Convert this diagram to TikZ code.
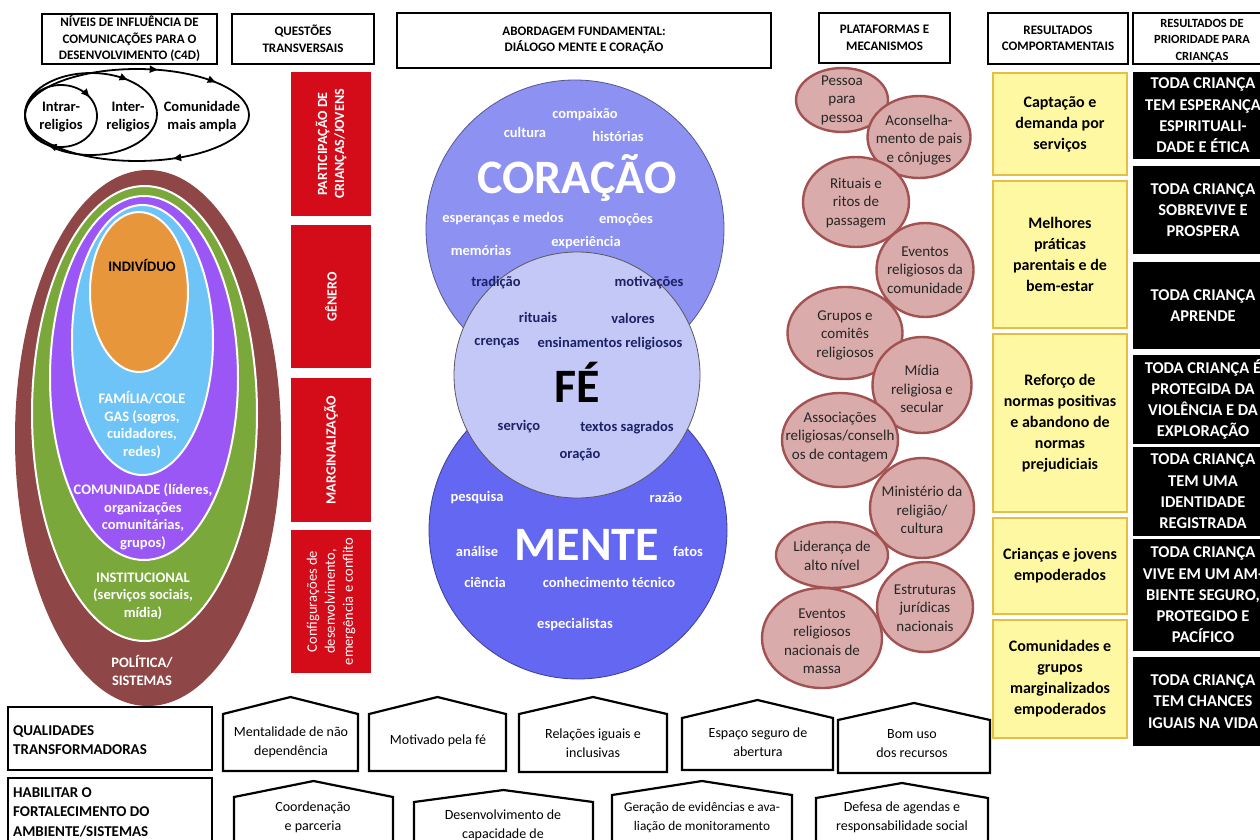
\documentclass[tikz,border=0pt]{standalone}
\usepackage{fontspec}
\setmainfont{Carlito}
\usetikzlibrary{arrows.meta,decorations.markings,shapes.geometric}
\definecolor{qred}{HTML}{D40C1A}
\definecolor{lbrown}{HTML}{8F4646}
\definecolor{lgreen}{HTML}{7AA83A}
\definecolor{lpurple}{HTML}{9B57F5}
\definecolor{lblue}{HTML}{6EC3F7}
\definecolor{lorange}{HTML}{E8963C}
\definecolor{ccor}{HTML}{8D91F1}
\definecolor{cfe}{HTML}{C4C8F6}
\definecolor{cmen}{HTML}{6467F1}
\definecolor{navy}{HTML}{1C2266}
\definecolor{pkfill}{HTML}{D9ABAB}
\definecolor{pkdraw}{HTML}{A35252}
\definecolor{yfill}{HTML}{FFF8A3}
\definecolor{ydraw}{HTML}{E6BD45}
\newcommand{\fsz}[2]{\fontsize{#1}{#2}\selectfont}
\newcommand{\looptip}{\arrow{Triangle[length=8pt,width=7pt]}}
\tikzset{
 hdr/.style={draw=black, line width=2.2pt, fill=white, inner sep=0pt, align=center, font=\bfseries\fsz{13}{16.5}},
 lvl/.style={ellipse, draw=white, line width=2pt, inner sep=0pt},
 lvltxt/.style={align=center, font=\bfseries\fsz{14.5}{17.5}, text=white, inner sep=0pt},
 loopl/.style={line width=1.8pt, draw=black},
 looptxt/.style={align=center, font=\bfseries\fsz{14.5}{18}, inner sep=0pt},
 rbox/.style={fill=qred, text=white, rotate=90, inner sep=0pt, align=center, font=\bfseries\fsz{14}{17}},
 bigc/.style={circle, inner sep=0pt, line width=0.8pt},
 wword/.style={text=white, font=\bfseries\fsz{14.5}{17}, inner sep=0pt, anchor=base},
 nword/.style={text=navy, font=\bfseries\fsz{14.5}{17}, inner sep=0pt, anchor=base},
 pk/.style={ellipse, fill=pkfill, draw=pkdraw, line width=2.4pt, inner sep=0pt},
 pktxt/.style={align=center, font=\fsz{15}{18.5}, inner sep=0pt, text=black!85},
 ybox/.style={fill=yfill, draw=ydraw, line width=2pt, align=center, font=\bfseries\fsz{16}{21}, inner sep=0pt, minimum width=134pt},
 kbox/.style={fill=black, text=white, align=center, font=\bfseries\fsz{16.5}{21.3}, inner sep=0pt, minimum width=140pt},
 house/.style={draw=black, line width=2.2pt, fill=white, line join=miter},
 htxt/.style={align=center, font=\fsz{14}{19}, inner sep=0pt},
 btxt/.style={align=left, anchor=west, font=\bfseries\fsz{15}{19.5}, inner sep=0pt},
}
\begin{document}
\begin{tikzpicture}[x=1pt,y=-1pt]
\useasboundingbox (0,0) rectangle (1260,840);
\clip (0,0) rectangle (1260,840);
\fill[white] (0,0) rectangle (1260,840);

% ---------- headers
\node[hdr, minimum width=175pt, minimum height=50pt] (h1) at (129.5,39) {NÍVEIS DE INFLUÊNCIA DE\\COMUNICAÇÕES PARA O\\DESENVOLVIMENTO (C4D)};
\node[hdr, minimum width=142pt, minimum height=50pt] (h2) at (303,39) {QUESTÕES\\TRANSVERSAIS};
\node[hdr, minimum width=374pt, minimum height=55pt] (h3) at (584,40.5) {ABORDAGEM FUNDAMENTAL:\\DIÁLOGO MENTE E CORAÇÃO};
\node[hdr, minimum width=131pt, minimum height=50pt] (h4) at (884.5,38) {PLATAFORMAS E\\MECANISMOS};
\node[hdr, minimum width=140pt, minimum height=51pt] (h5) at (1058,38.5) {RESULTADOS\\COMPORTAMENTAIS};
\node[hdr, minimum width=157pt, minimum height=51pt] (h6) at (1211.5,38.5) {};
\node[align=center, inner sep=0pt, font=\bfseries\fsz{12.5}{16.5}] (h6t) at (1202,40.5) {RESULTADOS DE\\PRIORIDADE PARA\\CRIANÇAS};

% ---------- loops
\draw[loopl, decoration={markings,
  mark=at position 0.18 with {\looptip},
  mark=at position 0.79 with {\looptip},
  mark=at position 0.905 with {\looptip}}, postaction={decorate}]
  (137,115) ellipse [x radius=112, y radius=46];
\draw[loopl, decoration={markings,
  mark=at position 0.86 with {\looptip}}, postaction={decorate}]
  (91,114) ellipse [x radius=66, y radius=41];
\draw[loopl, decoration={markings,
  mark=at position 0.31 with {\looptip},
  mark=at position 0.9 with {\looptip}}, postaction={decorate}]
  (61,116) ellipse [x radius=36, y radius=31];
\node[looptxt] (l1) at (61,117) {Intrar-\\religios};
\node[looptxt] (l2) at (128,117) {Inter-\\religios};
\node[looptxt] (l3) at (202,117) {Comunidade\\mais ampla};

% ---------- levels
\node[ellipse, fill=lbrown, inner sep=0pt, minimum width=266pt, minimum height=536pt] (e1) at (148,438) {};
\node[lvl, fill=lgreen, minimum width=225pt, minimum height=455pt] (e2) at (144.5,413.5) {};
\node[lvl, fill=lpurple, minimum width=188pt, minimum height=364pt] (e3) at (144,378) {};
\node[lvl, fill=lblue, minimum width=141pt, minimum height=270pt] (e4) at (142.5,340) {};
\node[lvl, fill=lorange, minimum width=98pt, minimum height=160pt] (e5) at (139,292) {};
\node[lvltxt, text=black] (t5) at (142,265) {INDIVÍDUO};
\node[lvltxt] (t4) at (142,425) {FAMÍLIA/COLE\\GAS (sogros,\\cuidadores,\\redes)};
\node[lvltxt] (t3) at (143,517) {COMUNIDADE (líderes,\\organizações\\comunitárias,\\grupos)};
\node[lvltxt] (t2) at (143,596) {INSTITUCIONAL\\(serviços sociais,\\mídia)};
\node[lvltxt] (t1) at (142,670.5) {POLÍTICA/\\SISTEMAS};

% ---------- red boxes
\node[rbox, minimum width=144pt, minimum height=80pt] (r1) at (331,144) {PARTICIPAÇÃO DE\\CRIANÇAS/JOVENS};
\node[rbox, minimum width=143pt, minimum height=80pt] (r2) at (331,296.5) {GÊNERO};
\node[rbox, minimum width=144pt, minimum height=80pt] (r3) at (331,450) {MARGINALIZAÇÃO};
\node[rbox, minimum width=143pt, minimum height=80pt, font=\fsz{14.5}{18}] (r4) at (331,601.5) {Configurações de\\desenvolvimento,\\emergência e conflito};

% ---------- circles
\node[bigc, fill=ccor, draw=ccor!60!black, minimum size=298pt] (cor) at (575,229) {};
\node[bigc, fill=cmen, draw=cmen!60!black, minimum size=298pt] (men) at (578,530) {};
\node[bigc, fill=cfe, draw=black!65, minimum size=246pt] (fe) at (577,375) {};
\node[text=white, font=\bfseries\fsz{48}{50}, inner sep=0pt, anchor=base] (corT) at (577,193) {CORAÇÃO};
\node[text=white, font=\bfseries\fsz{48}{50}, inner sep=0pt, anchor=base] (menT) at (587,560) {MENTE};
\node[text=black, font=\bfseries\fsz{48}{50}, inner sep=0pt, anchor=base] (feT) at (577,402) {FÉ};
\node[wword] (w1) at (585,118) {compaixão};
\node[wword] (w2) at (525,138) {cultura};
\node[wword] (w3) at (618,142) {histórias};
\node[wword] (w4) at (503,222) {esperanças e medos};
\node[wword] (w5) at (626,223) {emoções};
\node[wword] (w6) at (586,246) {experiência};
\node[wword] (w7) at (481,255) {memórias};
\node[nword] (n1) at (496,286) {tradição};
\node[nword] (n2) at (649,286) {motivações};
\node[nword] (n3) at (538,322) {rituais};
\node[nword] (n4) at (633,323) {valores};
\node[nword] (n5) at (497,345) {crenças};
\node[nword] (n6) at (610,347) {ensinamentos religiosos};
\node[nword] (n7) at (519,430) {serviço};
\node[nword] (n8) at (627,431) {textos sagrados};
\node[nword] (n9) at (580,458) {oração};
\node[wword] (m1) at (477,501) {pesquisa};
\node[wword] (m2) at (666,502) {razão};
\node[wword] (m3) at (477,556) {análise};
\node[wword] (m4) at (688,556) {fatos};
\node[wword] (m5) at (485,587) {ciência};
\node[wword] (m6) at (609,587) {conhecimento técnico};
\node[wword] (m7) at (575,628) {especialistas};

% ---------- platforms
\node[pk, minimum width=92pt, minimum height=64pt] (p1) at (842,100) {};
\node[pktxt] (p1t) at (p1) {Pessoa\\para\\pessoa};
\node[pk, minimum width=103pt, minimum height=82pt] (p2) at (919,137) {};
\node[pktxt] (p2t) at (919,140) {Aconselha-\\mento de pais\\e cônjuges};
\node[pk, minimum width=106pt, minimum height=90pt] (p3) at (856,202) {};
\node[pktxt] (p3t) at (856,203) {Rituais e\\ritos de\\passagem};
\node[pk, minimum width=97pt, minimum height=94pt] (p4) at (925,270) {};
\node[pktxt] (p4t) at (925,270) {Eventos\\religiosos da\\comunidade};
\node[pk, minimum width=115pt, minimum height=92pt] (p5) at (845,333) {};
\node[pktxt] (p5t) at (845,335) {Grupos e\\comitês\\religiosos};
\node[pk, minimum width=99pt, minimum height=96pt] (p6) at (922,385) {};
\node[pktxt] (p6t) at (922,389) {Mídia\\religiosa e\\secular};
\node[pk, minimum width=116pt, minimum height=94pt] (p7) at (840,440) {};
\node[pktxt] (p7t) at (840,437) {Associações\\religiosas/conselh\\os de contagem};
\node[pk, minimum width=104pt, minimum height=100pt] (p8) at (922,508) {};
\node[pktxt] (p8t) at (922,510) {Ministério da\\religião/\\cultura};
\node[pk, minimum width=112pt, minimum height=66pt] (p9) at (832,555) {};
\node[pktxt] (p9t) at (832,556) {Liderança de\\alto nível};
\node[pk, minimum width=96pt, minimum height=90pt] (p10) at (925,607) {};
\node[pktxt] (p10t) at (925,608) {Estruturas\\jurídicas\\nacionais};
\node[pk, minimum width=120pt, minimum height=100pt] (p11) at (822,638) {};
\node[pktxt] (p11t) at (822,641) {Eventos\\religiosos\\nacionais de\\massa};

% ---------- behavioural outcomes
\node[ybox, minimum height=102pt] (y1) at (1060,124) {Captação e\\demanda por\\serviços};
\node[ybox, minimum height=147pt] (y2) at (1060,254.5) {Melhores\\práticas\\parentais e de\\bem-estar};
\node[ybox, minimum height=178pt] (y3) at (1060,423) {Reforço de\\normas positivas\\e abandono de\\normas\\prejudiciais};
\node[ybox, minimum height=96pt] (y4) at (1060,566) {Crianças e jovens\\empoderados};
\node[ybox, minimum height=118pt] (y5) at (1060,679) {Comunidades e\\grupos\\marginalizados\\empoderados};

% ---------- priority results
\node[kbox, minimum height=87pt] (k1) at (1203,115.5) {TODA CRIANÇA\\TEM ESPERANÇA\\ESPIRITUALI-\\DADE E ÉTICA};
\node[kbox, minimum height=88pt] (k2) at (1203,210) {TODA CRIANÇA\\SOBREVIVE E\\PROSPERA};
\node[kbox, minimum height=87pt] (k3) at (1203,305.5) {TODA CRIANÇA\\APRENDE};
\node[kbox, minimum height=89pt] (k4) at (1203,399.5) {TODA CRIANÇA É\\PROTEGIDA DA\\VIOLÊNCIA E DA\\EXPLORAÇÃO};
\node[kbox, minimum height=89pt] (k5) at (1203,491.5) {TODA CRIANÇA\\TEM UMA\\IDENTIDADE\\REGISTRADA};
\node[kbox, minimum height=112pt] (k6) at (1203,595) {TODA CRIANÇA\\VIVE EM UM AM-\\BIENTE SEGURO,\\PROTEGIDO E\\PACÍFICO};
\node[kbox, minimum height=89pt] (k7) at (1203,701.5) {TODA CRIANÇA\\TEM CHANCES\\IGUAIS NA VIDA};

% ---------- bottom rows
\draw[line width=2.2pt] (8,707) rectangle (212,770);
\node[btxt] (q) at (13,740) {QUALIDADES\\TRANSFORMADORAS};
\draw[line width=2.2pt] (8,778) rectangle (212,860);
\node[btxt] (hab) at (13,812) {HABILITAR O\\FORTALECIMENTO DO\\AMBIENTE/SISTEMAS};

\draw[house] (223,771) -- (223,714) -- (290.5,697) -- (358,714) -- (358,771) -- cycle;
\node[htxt] (u1) at (291,742) {Mentalidade de não\\dependência};
\draw[house] (369,771) -- (369,714) -- (437.5,697) -- (506,714) -- (506,771) -- cycle;
\node[htxt] (u2) at (438,741) {Motivado pela fé};
\draw[house] (519,772) -- (519,714) -- (593,697) -- (667,714) -- (667,772) -- cycle;
\node[htxt] (u3) at (593,743) {Relações iguais e\\inclusivas};
\draw[house] (682,770) -- (682,718) -- (757.5,700) -- (833,718) -- (833,770) -- cycle;
\node[htxt] (u4) at (758,742) {Espaço seguro de\\abertura};
\draw[house] (838,773) -- (838,720) -- (914,703) -- (990,720) -- (990,773) -- cycle;
\node[htxt] (u5) at (912,744) {Bom uso\\dos recursos};

\draw[house] (234,860) -- (234,797) -- (313.5,781) -- (393,797) -- (393,860) -- cycle;
\node[htxt] (v1) at (313,817) {Coordenação\\e parceria};
\draw[house] (414,860) -- (414,802) -- (503.5,790) -- (593,802) -- (593,860) -- cycle;
\node[htxt] (v2) at (503,825) {Desenvolvimento de\\capacidade de};
\draw[house] (612,860) -- (612,795) -- (702,781) -- (792,795) -- (792,860) -- cycle;
\node[htxt, font=\fsz{13.3}{19}] (v3) at (702,817) {Geração de evidências e ava-\\liação de monitoramento};
\draw[house] (816,860) -- (816,798) -- (902,783) -- (988,798) -- (988,860) -- cycle;
\node[htxt] (v4) at (902,817) {Defesa de agendas e\\responsabilidade social};
\end{tikzpicture}
\end{document}
